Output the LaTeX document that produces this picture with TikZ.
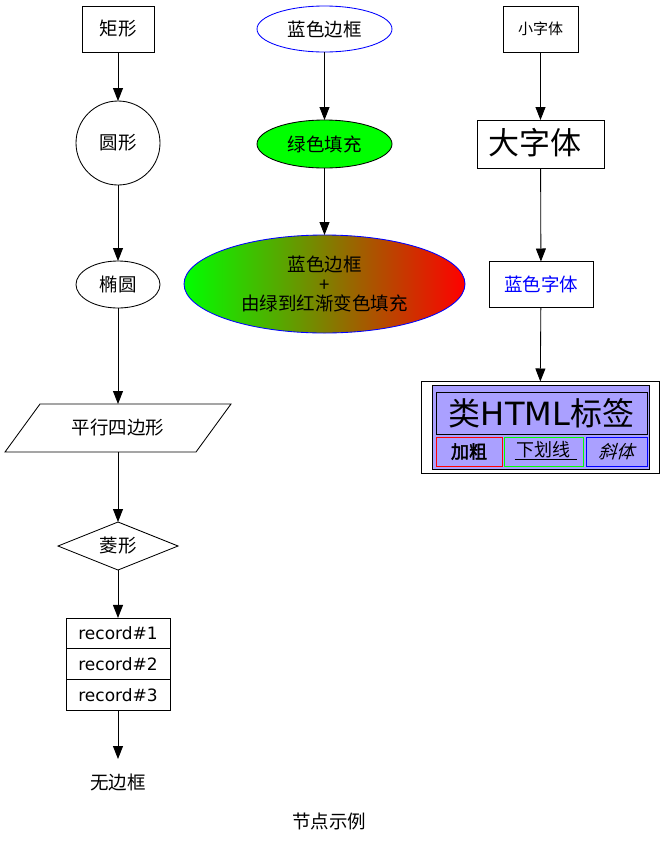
\documentclass[tikz,border=0pt]{standalone}
\usepackage{fontspec}
\setmainfont{DejaVu Sans}
\newfontfamily\cjk{Noto Sans CJK SC}
\newfontfamily\cjkb[FakeBold=2.5]{Noto Sans CJK SC}
\newfontfamily\cjki[FakeSlant=0.3]{Noto Sans CJK SC}
\usetikzlibrary{shapes.geometric,arrows.meta}
\definecolor{lav}{RGB}{170,160,255}
\begin{document}
\begin{tikzpicture}[x=1pt,y=-1pt,
  every node/.style={inner sep=0pt, outer sep=0pt, font=\cjk\fontsize{18.5}{22}\selectfont},
  base/.style={draw, line width=0.85pt},
  boxnode/.style={base, rectangle, minimum height=46},
  recnode/.style={base, rectangle, minimum width=104, minimum height=30.7, font=\fontsize{17}{20}\selectfont},
  cell/.style={draw, line width=0.85pt, rectangle},
  arr/.style={draw, line width=0.85pt, -{Triangle[length=13pt,width=10pt]}}
]
\useasboundingbox (0,0) rectangle (665,844);
% column 1
\node[boxnode, minimum width=72] (rect) at (118,29) {矩形};
\node[base, circle, minimum size=84] (circ) at (118,143) {圆形};
\node[base, ellipse, minimum width=84, minimum height=47] (ell) at (118,284.5) {椭圆};
\node[minimum width=150, minimum height=48] (pg) at (118,428) {平行四边形};
\draw[base] (pg.center) ++(-113,24) -- ++(191,0) -- ++(35,-48) -- ++(-191,0) -- cycle;
\node[base, diamond, aspect=2.5, minimum width=120, minimum height=48] (dia) at (118,546) {菱形};
\node[recnode] (r1) at (118,633.3) {record\#1};
\node[recnode] (r2) at (118,664) {record\#2};
\node[recnode] (r3) at (118,694.7) {record\#3};
\node[minimum width=80, minimum height=46] (nob) at (118,782) {无边框};
% column 2
\node[base, ellipse, draw=blue, minimum width=135, minimum height=46] (bluebd) at (324.5,29) {蓝色边框};
\node[base, ellipse, fill=green, minimum width=135, minimum height=48] (greenfill) at (324.5,144) {绿色填充};
\node[base, ellipse, draw=blue, left color=green, right color=red, minimum width=281, minimum height=98, align=center, font=\cjk\fontsize{18.5}{19.5}\selectfont] (grad) at (324.5,284) {蓝色边框\\+\\由绿到红渐变色填充};
% column 3
\node[boxnode, minimum width=75, font=\cjk\fontsize{15}{18}\selectfont] (small) at (540.5,29) {小字体};
\node[boxnode, minimum width=127, minimum height=48] (big) at (540.5,144) {};
\node[font=\cjk\fontsize{31}{36}\selectfont] (bigtext) at (535,143) {大字体};
\node[boxnode, minimum width=104, text=blue] (bluefont) at (541,284.5) {蓝色字体};
\node[base, rectangle, minimum width=238, minimum height=92] (html) at (540,427.5) {};
\node[draw, line width=0.85pt, fill=lav, minimum width=217, minimum height=84] (tab) at (540.5,427) {};
\node[cell, minimum width=211, minimum height=42, font=\fontsize{32}{36}\selectfont] (title) at (541.5,413) {{\cjk 类}HTML{\cjk 标签}};
\node[cell, draw=red, minimum width=66, minimum height=29, font=\cjkb\fontsize{18}{20}\selectfont] (bold) at (469,451.5) {加粗};
\node[cell, draw=green, minimum width=79, minimum height=29] (uline) at (543.5,451.5) {};
\node[font=\cjk\fontsize{18}{20}\selectfont] (ulinetext) at (543.5,450) {下划线};
\draw[line width=0.85pt] (ulinetext.south west) ++(-2,1) -- ++(62,0);
\node[cell, draw=blue, minimum width=61, minimum height=29, font=\cjki\fontsize{18}{20}\selectfont] (ital) at (616.5,451.5) {斜体};
% caption
\node (cap) at (329,821) {节点示例};
% edges
\draw[arr] (rect) -- (circ);
\draw[arr] (circ) -- (ell);
\draw[arr] (ell) -- (pg);
\draw[arr] (pg) -- (dia);
\draw[arr] (dia) -- (r1);
\draw[arr] (r3) -- (nob);
\draw[arr] (bluebd) -- (greenfill);
\draw[arr] (greenfill) -- (grad);
\draw[arr] (small) -- (big);
\draw[arr] (big) -- (bluefont);
\draw[arr] (bluefont) -- (html);
\end{tikzpicture}
\end{document}
